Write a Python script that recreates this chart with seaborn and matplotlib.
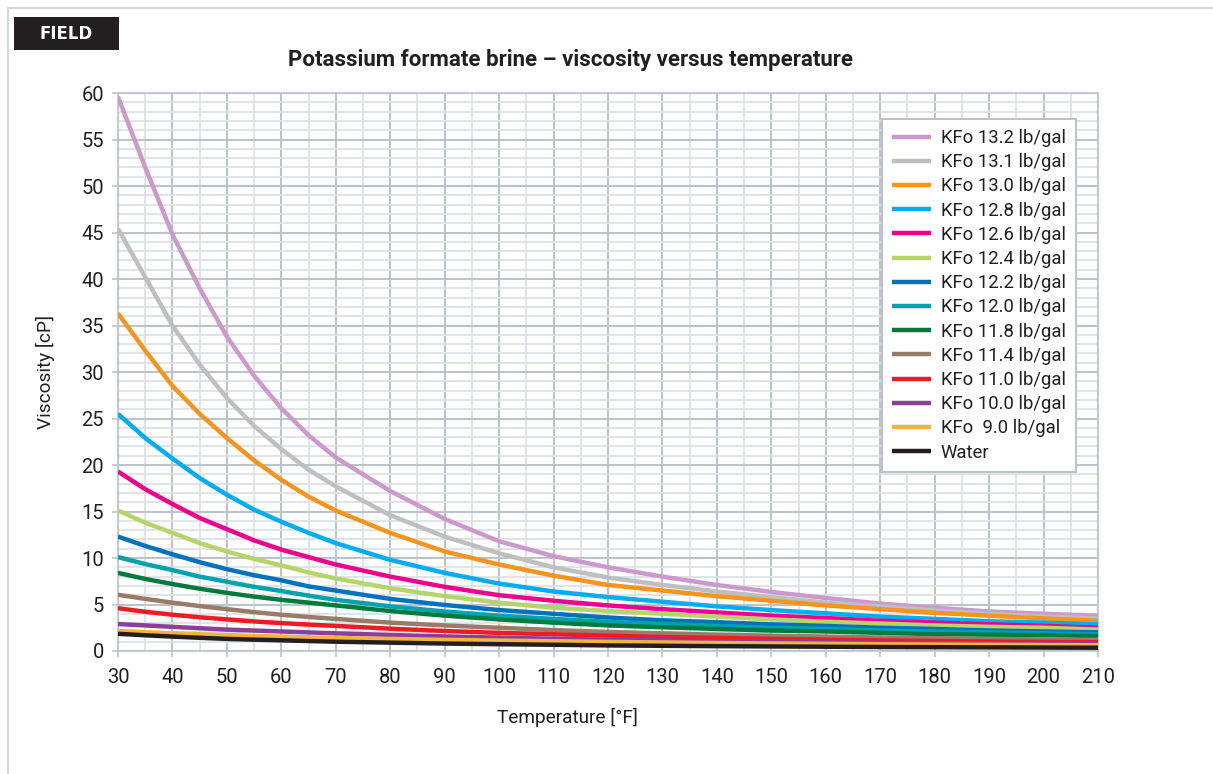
import numpy as np
import pandas as pd
import matplotlib
matplotlib.use("Agg")
import matplotlib.pyplot as plt
from matplotlib.ticker import MultipleLocator
import seaborn as sns

# Data (viscosity in cP); finer steps where curves are steep
temps = [30, 35, 40, 45, 50, 55, 60, 65, 70, 80, 90, 100, 110, 120, 130, 140, 150, 160, 170, 180, 190, 200, 210]

kfo_132 = [59.6, 52.0, 44.8, 39.0, 33.8, 29.6, 26.1, 23.2, 20.8, 17.2, 14.2, 11.8, 10.2, 9.0, 8.0, 7.1, 6.35, 5.7, 5.1, 4.65, 4.25, 4.0, 3.8]
kfo_131 = [45.4, 40.2, 35.0, 30.8, 27.2, 24.2, 21.7, 19.5, 17.7, 14.6, 12.3, 10.5, 9.0, 7.9, 7.1, 6.4, 5.8, 5.2, 4.8, 4.35, 4.0, 3.7, 3.5]
kfo_130 = [36.3, 32.3, 28.5, 25.5, 22.9, 20.5, 18.4, 16.6, 15.1, 12.7, 10.7, 9.3, 8.1, 7.1, 6.5, 5.9, 5.4, 4.9, 4.5, 4.1, 3.8, 3.5, 3.25]
kfo_128 = [25.5, 22.9, 20.7, 18.6, 16.8, 15.2, 13.9, 12.7, 11.6, 9.8, 8.4, 7.25, 6.4, 5.8, 5.3, 4.8, 4.4, 4.05, 3.7, 3.45, 3.2, 3.05, 2.87]
kfo_126 = [19.3, 17.4, 15.8, 14.3, 13.1, 11.9, 10.9, 10.1, 9.3, 8.0, 6.9, 6.0, 5.4, 4.9, 4.5, 4.15, 3.8, 3.55, 3.25, 3.05, 2.87, 2.7, 2.5]
kfo_124 = [15.1, 13.8, 12.7, 11.6, 10.7, 9.9, 9.2, 8.45, 7.8, 6.75, 5.9, 5.2, 4.65, 4.3, 4.0, 3.7, 3.4, 3.15, 2.95, 2.75, 2.6, 2.5, 2.3]
kfo_122 = [12.3, 11.3, 10.4, 9.55, 8.8, 8.15, 7.6, 6.95, 6.5, 5.6, 4.95, 4.4, 4.0, 3.6, 3.3, 3.1, 2.87, 2.7, 2.5, 2.37, 2.2, 2.1, 2.0]
kfo_120 = [10.1, 9.35, 8.7, 8.0, 7.45, 6.9, 6.45, 5.95, 5.5, 4.8, 4.25, 3.8, 3.45, 3.15, 2.9, 2.7, 2.5, 2.37, 2.2, 2.1, 2.0, 1.9, 1.8]
kfo_118 = [8.4, 7.75, 7.2, 6.7, 6.25, 5.85, 5.5, 5.2, 4.9, 4.3, 3.8, 3.4, 3.05, 2.75, 2.55, 2.37, 2.2, 2.1, 1.95, 1.8, 1.75, 1.7, 1.6]
kfo_114 = [6.05, 5.6, 5.2, 4.83, 4.5, 4.18, 3.9, 3.66, 3.45, 3.05, 2.75, 2.5, 2.25, 2.05, 1.9, 1.75, 1.65, 1.55, 1.45, 1.38, 1.3, 1.25, 1.2]
kfo_110 = [4.6, 4.22, 3.9, 3.63, 3.4, 3.18, 3.0, 2.84, 2.7, 2.4, 2.15, 1.95, 1.8, 1.65, 1.5, 1.4, 1.3, 1.22, 1.15, 1.08, 1.02, 0.98, 0.94]
kfo_100 = [2.9, 2.75, 2.6, 2.45, 2.3, 2.2, 2.1, 2.0, 1.9, 1.72, 1.57, 1.44, 1.32, 1.22, 1.14, 1.06, 1.0, 0.95, 0.9, 0.86, 0.82, 0.79, 0.76]
kfo_90 = [2.15, 2.02, 1.9, 1.8, 1.7, 1.62, 1.55, 1.47, 1.4, 1.3, 1.2, 1.12, 1.05, 0.98, 0.92, 0.86, 0.81, 0.77, 0.73, 0.70, 0.67, 0.64, 0.62]
water = [1.85, 1.69, 1.55, 1.42, 1.3, 1.22, 1.15, 1.07, 1.0, 0.9, 0.8, 0.73, 0.67, 0.6, 0.56, 0.52, 0.49, 0.46, 0.43, 0.41, 0.39, 0.37, 0.35]

series_names = ["KFo 13.2 lb/gal", "KFo 13.1 lb/gal", "KFo 13.0 lb/gal", "KFo 12.8 lb/gal",
                "KFo 12.6 lb/gal", "KFo 12.4 lb/gal", "KFo 12.2 lb/gal", "KFo 12.0 lb/gal",
                "KFo 11.8 lb/gal", "KFo 11.4 lb/gal", "KFo 11.0 lb/gal", "KFo 10.0 lb/gal",
                "KFo  9.0 lb/gal", "Water"]
series_values = [kfo_132, kfo_131, kfo_130, kfo_128, kfo_126, kfo_124, kfo_122, kfo_120,
                 kfo_118, kfo_114, kfo_110, kfo_100, kfo_90, water]
colors = ["#CC99CC", "#BFBFBF", "#F7941D", "#00AEEF", "#EC008C", "#B5D56A", "#0072BC",
          "#00A3AD", "#007A3D", "#9A7B67", "#ED1C24", "#8B3F98", "#F2B340", "#231F20"]

# long table for seaborn
df = pd.DataFrame({
    "temp": np.tile(temps, len(series_names)),
    "visc": np.concatenate(series_values),
    "series": np.repeat(series_names, len(temps)),
})

sns.set_theme(style="white")
plt.rcParams["font.family"] = ["Roboto", "DejaVu Sans"]

fig = plt.figure(figsize=(12.13, 7.74), dpi=100)
ax = fig.add_axes([118 / 1213, 1 - 651 / 774, 980 / 1213, 558 / 774])

sns.lineplot(data=df, x="temp", y="visc", hue="series", hue_order=series_names,
             palette=colors, linewidth=3.2, ax=ax, zorder=3)
for line in ax.get_lines():
    line.set_solid_capstyle("butt")
    line.set_solid_joinstyle("round")

ax.set_xlim(30, 210)
ax.set_ylim(0, 60)
ax.xaxis.set_major_locator(MultipleLocator(10))
ax.xaxis.set_minor_locator(MultipleLocator(5))
ax.yaxis.set_major_locator(MultipleLocator(5))
ax.yaxis.set_minor_locator(MultipleLocator(1))
ax.grid(which="major", color="#BCC3CA", linewidth=1.5, zorder=0)
ax.grid(which="minor", color="#DDE1E5", linewidth=1.3, zorder=0)
ax.set_axisbelow(True)

for s in ax.spines.values():
    s.set_color("#BCC3CA")
    s.set_linewidth(1.2)

ax.tick_params(which="major", direction="out", length=4, width=1.2, color="#BCC3CA",
               labelsize=14.5, labelcolor="#231F20", left=True, bottom=True)
ax.tick_params(axis="x", pad=8)
ax.tick_params(axis="y", pad=6)
ax.tick_params(which="minor", length=0)
ax.set_xlabel("")
ax.set_ylabel("")

leg = ax.legend(loc="upper right", bbox_to_anchor=(0.9775, 0.9535), frameon=True,
                fontsize=13.3, handlelength=2.1, handletextpad=0.55, labelspacing=0.335,
                borderpad=0.55, borderaxespad=0, fancybox=False, framealpha=1)
leg.get_frame().set_edgecolor("#BCC3CA")
leg.get_frame().set_linewidth(1.5)
for line in leg.get_lines():
    line.set_linewidth(3.2)
for t in leg.get_texts():
    t.set_color("#231F20")

fig.text(571 / 1213, 1 - 60 / 774, "Potassium formate brine \u2013 viscosity versus temperature",
         ha="center", va="center", fontsize=16, fontweight="bold", color="#231F20")
fig.text(567 / 1213, 1 - 717 / 774, "Temperature [\u00b0F]", ha="center", va="center",
         fontsize=13.7, color="#231F20")
fig.text(45 / 1213, 1 - 372 / 774, "Viscosity [cP]", ha="center", va="center",
         rotation=90, fontsize=13.7, color="#231F20")

# outer frame and FIELD tag
fig.add_artist(plt.Line2D([8 / 1213, 1], [1 - 8 / 774, 1 - 8 / 774], color="#C9D0D6", lw=1.2))
fig.add_artist(plt.Line2D([8 / 1213, 8 / 1213], [0, 1 - 8 / 774], color="#C9D0D6", lw=1.2))
fig.add_artist(plt.Rectangle((14 / 1213, 1 - 50 / 774), 105 / 1213, 33 / 774,
                             facecolor="#231F20", edgecolor="none"))
fig.text(66 / 1213, 1 - 34 / 774, "FIELD", ha="center", va="center", fontsize=12,
         fontweight="bold", color="white", family="DejaVu Sans")

fig.savefig("out.png", dpi=100)
